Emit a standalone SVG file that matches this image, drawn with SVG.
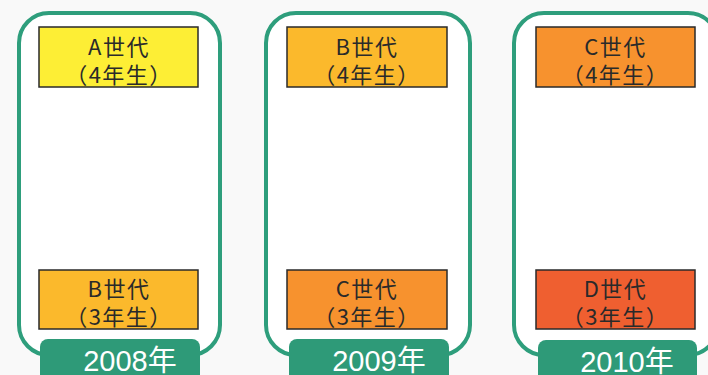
<svg xmlns="http://www.w3.org/2000/svg" width="708" height="375" viewBox="0 0 708 375">
<style>
.panel{fill:#ffffff;stroke:#2e9e7c;stroke-width:4}
.box{stroke:#2a2a2a;stroke-width:1.5}
.t{font-family:"Noto Sans CJK JP","Liberation Sans",sans-serif;font-size:22px;fill:#2a2a2a;text-anchor:middle;letter-spacing:1.5px}
.yl{fill:#2e9a78}
.yt{font-family:"Liberation Sans","Noto Sans CJK JP",sans-serif;font-size:29px;fill:#ffffff;text-anchor:middle}
</style>
<rect x="0" y="0" width="708" height="375" fill="#f9f9f9"/>
<g id="panel2008">
<rect class="panel" x="19" y="13" width="201" height="342" rx="30"/>
<g id="a4"><rect class="box" x="39" y="27" width="159" height="60" fill="#fdee35"/>
<text class="t" x="119" y="55">A世代</text><text class="t" x="119" y="83">（4年生）</text></g>
<g id="b3"><rect class="box" x="39" y="270" width="159" height="59" fill="#fbb92c"/>
<text class="t" x="119" y="297">B世代</text><text class="t" x="119" y="325">（3年生）</text></g>
<g id="y2008"><rect class="yl" x="40" y="339" width="160" height="45" rx="8"/>
<text class="yt" x="130" y="371">2008年</text></g>
</g>
<g id="panel2009">
<rect class="panel" x="266" y="13" width="204" height="342" rx="30"/>
<g id="b4"><rect class="box" x="287" y="27" width="160" height="60" fill="#fbb92c"/>
<text class="t" x="367" y="55">B世代</text><text class="t" x="367" y="83">（4年生）</text></g>
<g id="c3"><rect class="box" x="287" y="270" width="160" height="59" fill="#f7922e"/>
<text class="t" x="367" y="297">C世代</text><text class="t" x="367" y="325">（3年生）</text></g>
<g id="y2009"><rect class="yl" x="289" y="339" width="160" height="45" rx="8"/>
<text class="yt" x="379" y="371">2009年</text></g>
</g>
<g id="panel2010">
<rect class="panel" x="514" y="13" width="204" height="342" rx="30"/>
<g id="c4"><rect class="box" x="536" y="27" width="159" height="60" fill="#f7922e"/>
<text class="t" x="615.5" y="55">C世代</text><text class="t" x="615.5" y="83">（4年生）</text></g>
<g id="d3"><rect class="box" x="536" y="270" width="159" height="59" fill="#ef5f30"/>
<text class="t" x="615.5" y="297">D世代</text><text class="t" x="615.5" y="325">（3年生）</text></g>
<g id="y2010"><rect class="yl" x="538" y="340" width="159" height="45" rx="8"/>
<text class="yt" x="627" y="372">2010年</text></g>
</g>
<g id="connectors"></g>
</svg>
